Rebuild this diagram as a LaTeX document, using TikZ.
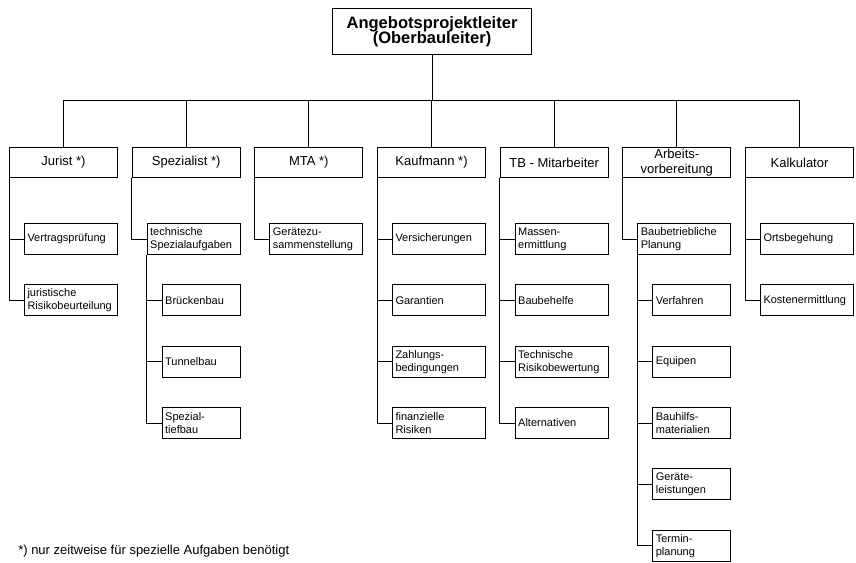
\documentclass[tikz,border=0pt]{standalone}
\usepackage{fontspec}
\setmainfont{Liberation Sans}
\begin{document}
\begin{tikzpicture}[x=0.75pt,y=-0.75pt,
  box/.style={draw=black,line width=0.75pt,fill=white,anchor=north west},
  chief/.style={box,inner sep=0pt,minimum width=149.25pt,minimum height=34.5pt,align=center,
    font=\fontsize{12.4}{11.4}\selectfont\bfseries},
  head/.style={box,inner sep=0pt,minimum width=81pt,minimum height=22.5pt,align=center,
    font=\fontsize{9.75}{11.6}\selectfont},
  task/.style={box,inner xsep=2.25pt,inner ysep=0pt,text width=65.25pt,minimum height=23.25pt,align=left,
    font=\fontsize{8.25}{9.75}\selectfont},
  subtask/.style={task,text width=54pt},
  link/.style={line width=0.75pt,draw=black}
]
\useasboundingbox (0,0) rectangle (856,562);

% top of the hierarchy
\node[chief] (top) at (332,8) {Angebotsprojektleiter\\[-1.5pt](Oberbauleiter)};

% departments
\node[head] (jur) at (9,147)      {Jurist *)};
\node[head] (spe) at (131.67,147) {Spezialist *)};
\node[head] (mta) at (254.33,147) {MTA *)};
\node[head] (kfm) at (377,147)    {Kaufmann *)};
\node[head] (tbm) at (499.67,147) {TB - Mitarbeiter};
\node[head] (avb) at (622.33,147) {Arbeits-\\vorbereitung};
\node[head] (kal) at (745,147)    {Kalkulator};

% Jurist
\node[task] (j1) at (24,223)    {Vertragsprüfung};
\node[task] (j2) at (24,284.33) {juristische\\Risikobeurteilung};

% Spezialist
\node[task]    (s1) at (146.67,223)    {technische\\Spezialaufgaben};
\node[subtask] (s2) at (161.67,284.33) {Brückenbau};
\node[subtask] (s3) at (161.67,345.67) {Tunnelbau};
\node[subtask] (s4) at (161.67,407)    {Spezial-\\tiefbau};

% MTA
\node[task] (m1) at (269.33,223) {Gerätezu-\\sammenstellung};

% Kaufmann
\node[task] (k1) at (392,223)    {Versicherungen};
\node[task] (k2) at (392,284.33) {Garantien};
\node[task] (k3) at (392,345.67) {Zahlungs-\\bedingungen};
\node[task] (k4) at (392,407)    {finanzielle\\Risiken};

% TB-Mitarbeiter
\node[task] (t1) at (514.67,223)    {Massen-\\ermittlung};
\node[task] (t2) at (514.67,284.33) {Baubehelfe};
\node[task] (t3) at (514.67,345.67) {Technische\\Risikobewertung};
\node[task] (t4) at (514.67,407)    {Alternativen};

% Arbeitsvorbereitung
\node[task]    (a1) at (637.33,223)    {Baubetriebliche\\Planung};
\node[subtask] (a2) at (652.33,284.33) {Verfahren};
\node[subtask] (a3) at (652.33,345.67) {Equipen};
\node[subtask] (a4) at (652.33,407)    {Bauhilfs-\\materialien};
\node[subtask] (a5) at (652.33,468.33) {Geräte-\\leistungen};
\node[subtask] (a6) at (652.33,529.67) {Termin-\\planung};

% Kalkulator
\node[task] (c1) at (760,223)    {Ortsbegehung};
\node[task] (c2) at (760,284.33) {Kostenermittlung};

% bus from the top box to the departments
\coordinate (bus) at (431.5,100);
\draw[link] (top.south) -- (top.south |- bus);
\draw[link] (jur.north) -- (jur.north |- bus) -- (kal.north |- bus) -- (kal.north);
\foreach \d in {spe,mta,kfm,tbm,avb}
  \draw[link] (\d.north) -- (\d.north |- bus);

% department to task connectors
\foreach \p/\c in {jur/j1,jur/j2,spe/s1,s1/s2,s1/s3,s1/s4,mta/m1,
                   kfm/k1,kfm/k2,kfm/k3,kfm/k4,tbm/t1,tbm/t2,tbm/t3,tbm/t4,
                   avb/a1,a1/a2,a1/a3,a1/a4,a1/a5,a1/a6,kal/c1,kal/c2}
  \draw[link] (\p.south west) |- (\c.west);

% footnote
\node[anchor=west,inner sep=0pt,font=\fontsize{9.75}{11}\selectfont] (note) at (18,551)
  {*) nur zeitweise für spezielle Aufgaben benötigt};
\end{tikzpicture}
\end{document}
